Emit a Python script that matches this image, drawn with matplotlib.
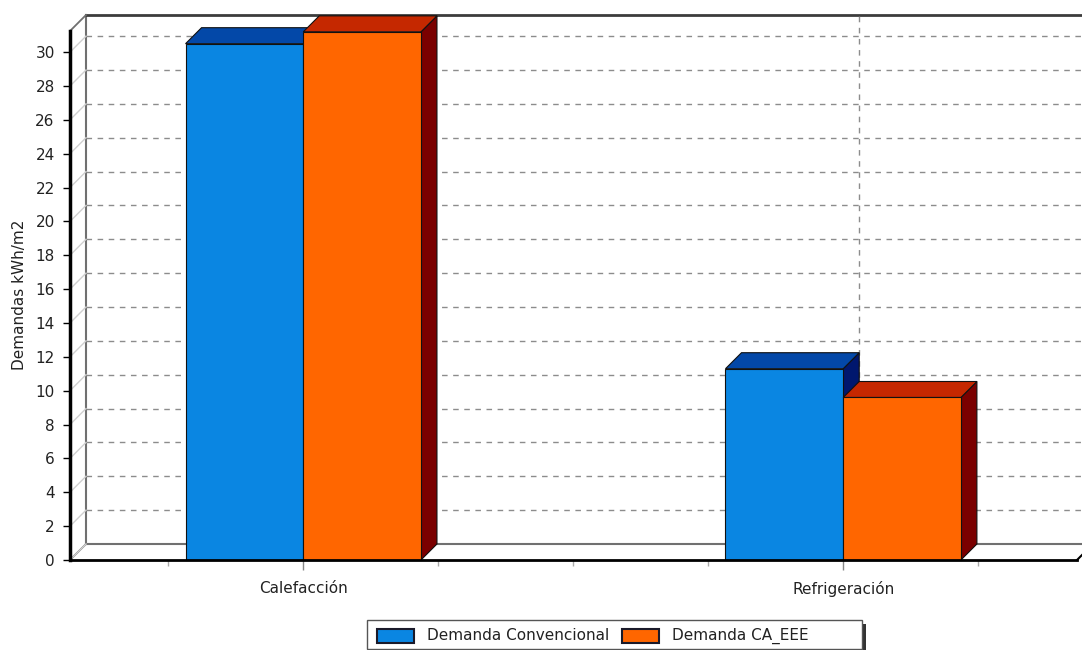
import matplotlib
matplotlib.use('Agg')
import matplotlib.pyplot as plt
from matplotlib.patches import Polygon, Rectangle

# datos
categorias = ['Calefacción', 'Refrigeración']
series = ['Demanda Convencional', 'Demanda CA_EEE']
conv = [30.5, 11.3]
ca_eee = [31.2, 9.6]
yticks = list(range(0, 31, 2))

# colores: frontal, superior, lateral
caras = {
    'Demanda Convencional': ('#0A86E2', '#0348A8', '#00176E'),
    'Demanda CA_EEE': ('#FF6600', '#C52800', '#7A0000'),
}

W, H = 1082, 650
fig = plt.figure(figsize=(W / 100, H / 100), dpi=100)
fig.patch.set_facecolor('white')
ax = fig.add_axes([70 / W, 90 / H, 1007 / W, 529 / H])
ax.patch.set_visible(False)

x0, x1 = -0.432, 1.433
y1 = 31.25
ax.set_xlim(x0, x1)
ax.set_ylim(0, y1)

# profundidad del efecto 3D (en unidades de datos)
DX = 16 / 540
DY = 16 / (529 / y1)

# pared del fondo
ax.add_patch(Polygon([(x0 + DX, DY), (x1 + DX, DY), (x1 + DX, y1 + DY), (x0 + DX, y1 + DY)],
                     closed=True, facecolor='white', edgecolor='none', zorder=0.5, clip_on=False))
ax.plot([x0 + DX, x0 + DX], [DY, y1 + DY], color='#707070', lw=1.5, zorder=1, clip_on=False)
ax.plot([x0 + DX, x1 + DX], [y1 + DY, y1 + DY], color='#3c3c3c', lw=2, zorder=1, clip_on=False)
ax.plot([x0 + DX, x1 + DX], [DY, DY], color='#707070', lw=1.5, zorder=1, clip_on=False)
ax.plot([x0, x0 + DX], [y1, y1 + DY], color='#707070', lw=1.3, zorder=1, clip_on=False)
ax.plot([x0, x0 + DX], [0, DY], color='#707070', lw=1.3, zorder=1, clip_on=False)
ax.plot([x1, x1 + DX], [0, DY], color='black', lw=1.5, zorder=1, clip_on=False)

# rejilla horizontal sobre la pared y guías en la pared izquierda
for v in yticks[1:]:
    ax.plot([x0 + DX, x1 + DX], [v + DY, v + DY], color='#8c8c8c', lw=1,
            ls=(0, (4, 4)), zorder=1.2, clip_on=False)
for v in yticks:
    ax.plot([x0, x0 + DX], [v, v + DY], color='#d0d0d0', lw=1, zorder=1.2, clip_on=False)

# rejilla vertical en cada categoría
for i in range(len(categorias)):
    ax.plot([i + DX, i + DX], [DY, y1 + DY], color='#8c8c8c', lw=1,
            ls=(0, (4, 4)), zorder=1.2, clip_on=False)

# barras con caras frontal, superior y lateral
ancho = 0.218
z = 3
for i in range(len(categorias)):
    for j, (nombre, valores) in enumerate(zip(series, [conv, ca_eee])):
        h = valores[i]
        a = i - ancho + j * ancho
        b = a + ancho
        frente, arriba, lado = caras[nombre]
        ax.add_patch(Polygon([(b, 0), (b + DX, DY), (b + DX, h + DY), (b, h)], closed=True,
                             facecolor=lado, edgecolor='#111111', lw=0.8, zorder=z, clip_on=False))
        ax.add_patch(Polygon([(a, h), (b, h), (b + DX, h + DY), (a + DX, h + DY)], closed=True,
                             facecolor=arriba, edgecolor='#111111', lw=0.8, zorder=z, clip_on=False))
        ax.add_patch(Rectangle((a, 0), ancho, h, facecolor=frente, edgecolor='#111111',
                               lw=0.8, zorder=z + 0.1, clip_on=False))
        z += 0.2

# ejes
for s in ['top', 'right']:
    ax.spines[s].set_visible(False)
ax.spines['left'].set_linewidth(2.5)
ax.spines['left'].set_color('black')
ax.spines['bottom'].set_linewidth(2)
ax.spines['bottom'].set_color('black')
ax.spines['bottom'].set_zorder(5)

ax.set_yticks(yticks)
ax.tick_params(axis='y', direction='out', length=5, width=1, color='black',
               labelsize=11, labelcolor='#222222', pad=6)
ax.set_xticks(range(len(categorias)), categorias)
ax.set_xticks([-0.25, 0.25, 0.5, 0.75, 1.25], minor=True)
ax.tick_params(axis='x', which='major', direction='out', length=7, width=1, color='#888888',
               labelsize=11, labelcolor='#222222', pad=8)
ax.tick_params(axis='x', which='minor', direction='out', length=4, width=1, color='#aaaaaa')

fig.text(20 / W, 1 - 295 / H, 'Demandas kWh/m2', rotation=90, ha='center', va='center',
         fontsize=11, color='#222222')

# leyenda con sombra
fig.patches.append(Rectangle((371 / W, 1 - 653 / H), 495 / W, 29 / H, transform=fig.transFigure,
                             facecolor='#333333', edgecolor='none', zorder=1))
fig.patches.append(Rectangle((367 / W, 1 - 649 / H), 495 / W, 29 / H, transform=fig.transFigure,
                             facecolor='white', edgecolor='#555555', lw=1, zorder=2))
leyenda_x = [377, 622]
for nombre, px in zip(series, leyenda_x):
    fig.patches.append(Rectangle((px / W, 1 - 643 / H), 37 / W, 14 / H, transform=fig.transFigure,
                                 facecolor=caras[nombre][0], edgecolor='#1a1a2a', lw=1.5, zorder=3))
    fig.text((px + 50) / W, 1 - 636 / H, nombre, ha='left', va='center',
             fontsize=11, color='#222222', zorder=4)

fig.savefig('out.png', dpi=100)
